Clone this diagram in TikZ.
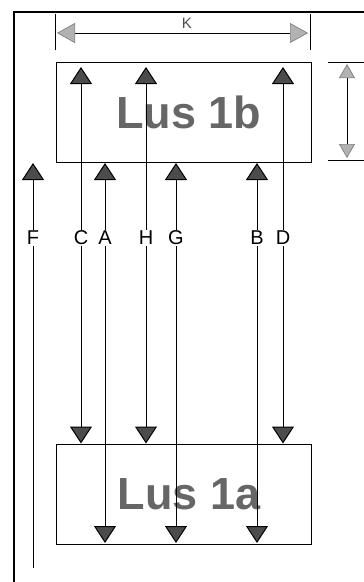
\documentclass[tikz,border=0pt]{standalone}
\usepackage{fontspec}
\setmainfont{Liberation Sans}
\usetikzlibrary{arrows.meta}

\begin{document}
\begin{tikzpicture}[x=1pt,y=-1pt,
        box/.style={draw, line width=1pt, minimum width=255pt, minimum height=100pt,
            inner sep=0pt, text=black!60, font=\fontsize{45}{45}\selectfont\bfseries},
        flow/.style={line width=1pt, {Triangle[width=22pt,length=17pt,fill=black!70]}-{Triangle[width=22pt,length=17pt,fill=black!70]}},
        upflow/.style={line width=1pt, -{Triangle[width=22pt,length=17pt,fill=black!70]}},
        dim/.style={line width=0.7pt, {Triangle[width=20pt,length=18pt,fill=black!30,color=black!50]}-{Triangle[width=20pt,length=18pt,fill=black!30,color=black!50]}},
        lbl/.style={fill=white, inner sep=1pt, font=\fontsize{20}{20}\selectfont}]
        \useasboundingbox (0,0) rectangle (364,582);

        % frame
        \draw[line width=1.2pt] (14,582) -- (14,12) -- (364,12);

        \node[box] (lus1b) at (184,112) {\hspace{10pt}Lus 1b};
        \node[box] (lus1a) at (184,494) {\hspace{10pt}Lus 1a};

        % K
        \draw[line width=0.8pt] (55,14) -- (55,50);
        \draw[line width=0.8pt] (310,14) -- (310,50);
        \coordinate (kL) at (57,33);
        \coordinate (kR) at (308,33);
        \draw[dim] (kL) -- (kR);
        \node[font=\fontsize{15}{15}\selectfont, text=black!70] (kLabel) at (187,23) {K};

        % height of 1b
        \draw[line width=0.8pt] (328,62) -- (364,62);
        \draw[line width=0.8pt] (328,160) -- (364,160);
        \coordinate (hT) at (347,64);
        \coordinate (hB) at (347,158);
        \draw[line width=0.7pt, {Triangle[width=16pt,length=14pt,fill=black!30,color=black!50]}-{Triangle[width=16pt,length=14pt,fill=black!30,color=black!50]}] (hT) -- (hB);

        % from 1b down to top of 1a
        \foreach \n/\x in {C/81,H/146,D/283}{
            \coordinate (\n-t) at (\x,67);
            \coordinate (\n-b) at (lus1a.north -| \n-t);
            \draw[flow] (\n-t) -- (\n-b);
        }
        % from under 1b down through 1a
        \foreach \n/\x in {A/105,G/176,B/257}{
            \coordinate (\n-t) at (\x,163);
            \coordinate (\n-b) at (\x,543);
            \draw[flow] (\n-t) -- (\n-b);
        }
        \coordinate (F-t) at (33,163);
        \coordinate (F-b) at (33,568);
        \draw[upflow] (F-b) -- (F-t);

        \foreach \n/\x in {F/33,C/81,A/105,H/146,G/176,B/257,D/283}
            \node[lbl] (l\n) at (\x,238) {\n};
    \end{tikzpicture}
\end{document}
